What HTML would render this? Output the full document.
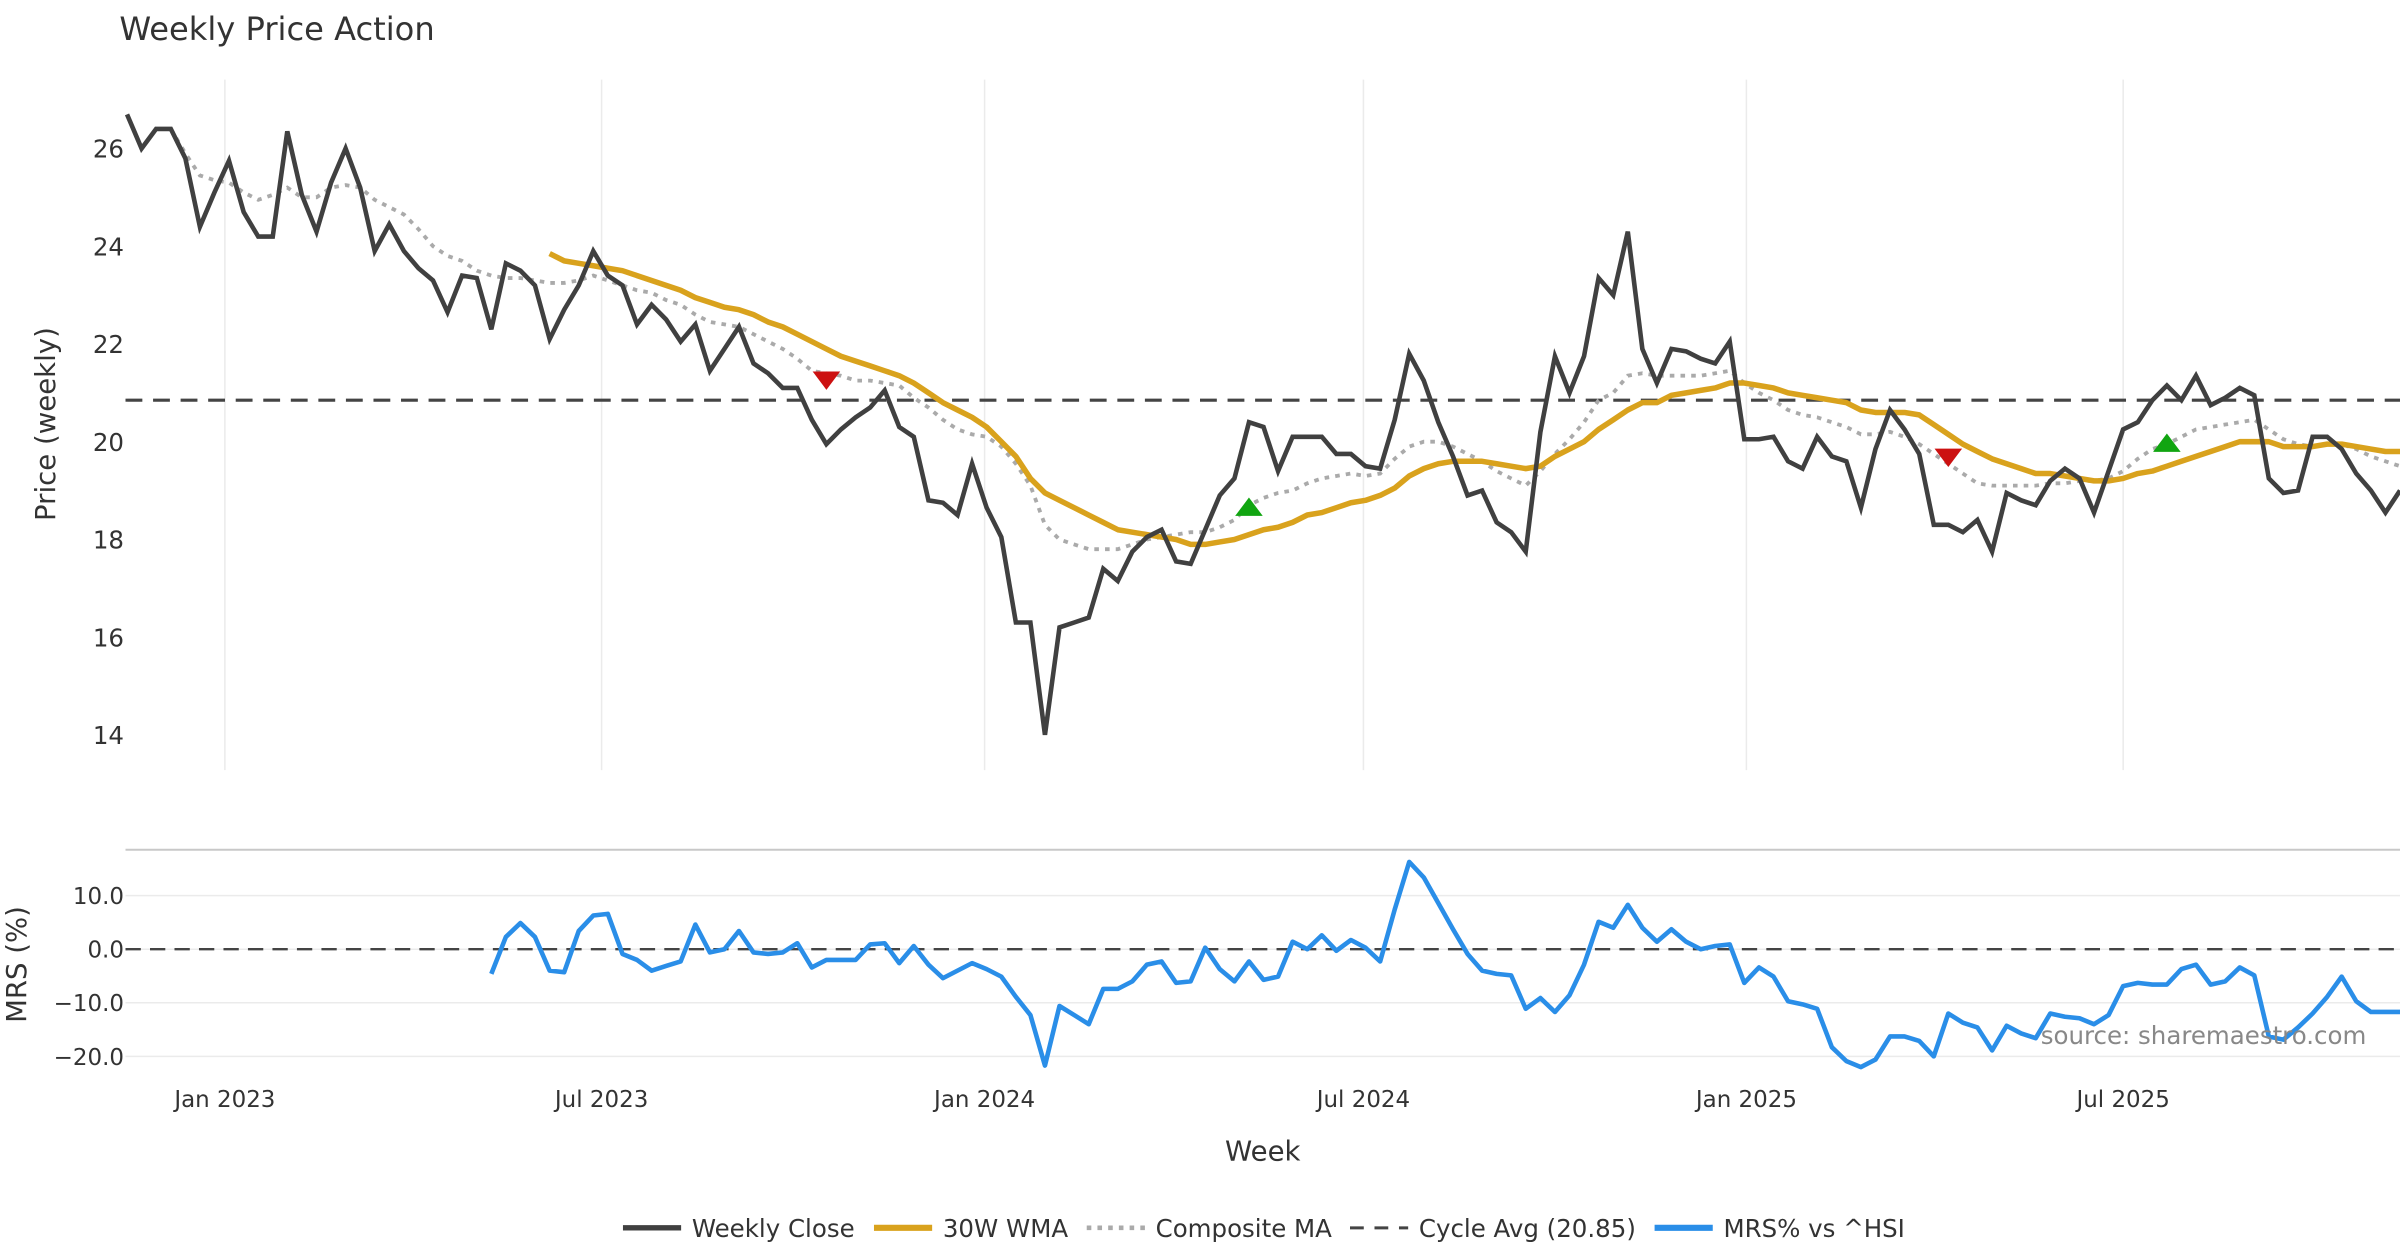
<!DOCTYPE html>
<html><head><meta charset="utf-8"><style>
html,body{margin:0;padding:0;background:#fff;}
svg{display:block;font-family:"DejaVu Sans","Liberation Sans",sans-serif;}
</style></head><body>
<svg id="chart" width="2400" height="1260" viewBox="0 0 1568 823" preserveAspectRatio="none" xmlns="http://www.w3.org/2000/svg">
<text x="78" y="26" font-size="21" fill="#333">Weekly Price Action</text>
<g id="grid"></g>
<g id="main"></g>
<g id="mrs"></g>
<text transform="translate(36,277) rotate(-90)" text-anchor="middle" font-size="18" fill="#333">Price (weekly)</text>
<text transform="translate(17,630) rotate(-90)" text-anchor="middle" font-size="18" fill="#333">MRS (%)</text>
<text x="825" y="758" text-anchor="middle" font-size="18" fill="#333">Week</text>
<text x="1546" y="682" text-anchor="end" font-size="16" fill="#888">source: sharemaestro.com</text>
<g id="legend"></g>
</svg>
<script>
const closes=[26.7,26.0,26.4,26.4,25.8,24.4,25.1,25.75,24.7,24.2,24.2,26.35,25.05,24.3,25.3,26.0,25.2,23.9,24.45,23.9,23.55,23.3,22.65,23.4,23.35,22.3,23.65,23.5,23.2,22.1,22.7,23.2,23.9,23.4,23.2,22.4,22.8,22.5,22.05,22.4,21.45,21.9,22.35,21.6,21.4,21.1,21.1,20.45,19.95,20.25,20.5,20.7,21.05,20.3,20.1,18.8,18.75,18.5,19.55,18.65,18.05,16.3,16.3,14.0,16.2,16.3,16.4,17.4,17.15,17.75,18.05,18.2,17.55,17.5,18.2,18.9,19.25,20.4,20.3,19.4,20.1,20.1,20.1,19.75,19.75,19.5,19.45,20.45,21.8,21.25,20.4,19.7,18.9,19.0,18.35,18.15,17.75,20.2,21.75,21.0,21.75,23.35,23.0,24.3,21.9,21.2,21.9,21.85,21.7,21.6,22.05,20.05,20.05,20.1,19.6,19.45,20.1,19.7,19.6,18.65,19.85,20.65,20.25,19.75,18.3,18.3,18.15,18.4,17.75,18.95,18.8,18.7,19.2,19.45,19.25,18.55,19.4,20.25,20.4,20.85,21.15,20.85,21.35,20.75,20.9,21.1,20.95,19.25,18.95,19.0,20.1,20.1,19.85,19.35,19.0,18.55,19.0];
const compositeMA=[26.4,25.9,25.45,25.35,25.3,25.1,24.95,25.05,25.2,25.0,25.0,25.2,25.25,25.2,24.95,24.8,24.65,24.35,24.0,23.8,23.7,23.5,23.4,23.35,23.35,23.3,23.25,23.25,23.3,23.4,23.3,23.2,23.1,23.05,22.9,22.8,22.6,22.45,22.4,22.35,22.2,22.05,21.9,21.7,21.45,21.4,21.35,21.25,21.25,21.2,21.15,20.9,20.7,20.45,20.25,20.15,20.1,19.9,19.55,19.1,18.3,18.0,17.9,17.8,17.8,17.8,17.9,18.0,18.05,18.1,18.15,18.15,18.25,18.4,18.7,18.85,18.95,19.0,19.15,19.25,19.3,19.35,19.3,19.35,19.65,19.9,20.0,20.0,19.9,19.75,19.6,19.4,19.25,19.1,19.4,19.75,20.05,20.4,20.85,21.0,21.35,21.4,21.35,21.35,21.35,21.35,21.4,21.45,21.2,21.0,20.85,20.65,20.55,20.5,20.4,20.3,20.15,20.15,20.2,20.1,19.95,19.75,19.55,19.35,19.15,19.1,19.1,19.1,19.1,19.15,19.15,19.2,19.2,19.25,19.4,19.65,19.85,19.95,20.1,20.25,20.3,20.35,20.4,20.45,20.25,20.05,19.95,19.9,19.95,19.95,19.85,19.7,19.6,19.5];
const wma30=[23.85,23.7,23.65,23.6,23.55,23.5,23.4,23.3,23.2,23.1,22.95,22.85,22.75,22.7,22.6,22.45,22.35,22.2,22.05,21.9,21.75,21.65,21.55,21.45,21.35,21.2,21.0,20.8,20.65,20.5,20.3,20.0,19.7,19.25,18.95,18.8,18.65,18.5,18.35,18.2,18.15,18.1,18.05,18.0,17.9,17.9,17.95,18.0,18.1,18.2,18.25,18.35,18.5,18.55,18.65,18.75,18.8,18.9,19.05,19.3,19.45,19.55,19.6,19.6,19.6,19.55,19.5,19.45,19.5,19.7,19.85,20.0,20.25,20.45,20.65,20.8,20.8,20.95,21.0,21.05,21.1,21.2,21.2,21.15,21.1,21.0,20.95,20.9,20.85,20.8,20.65,20.6,20.6,20.6,20.55,20.35,20.15,19.95,19.8,19.65,19.55,19.45,19.35,19.35,19.3,19.25,19.2,19.2,19.25,19.35,19.4,19.5,19.6,19.7,19.8,19.9,20.0,20.0,20.0,19.9,19.9,19.9,19.95,19.95,19.9,19.85,19.8,19.8];
const mrsPct=[-4.6,2.3,4.9,2.3,-4.0,-4.3,3.4,6.3,6.6,-0.9,-2.0,-4.0,-3.1,-2.3,4.6,-0.6,0,3.4,-0.6,-0.9,-0.6,1.1,-3.4,-2.0,-2.0,-2.0,0.9,1.1,-2.6,0.6,-2.9,-5.4,-4.0,-2.6,-3.7,-5.1,-8.9,-12.3,-21.7,-10.6,-12.3,-14.0,-7.4,-7.4,-6.0,-2.9,-2.3,-6.3,-6.0,0.3,-3.7,-6.0,-2.3,-5.7,-5.1,1.4,0,2.6,-0.3,1.7,0.3,-2.3,7.4,16.3,13.4,8.6,3.7,-0.9,-4.0,-4.6,-4.9,-11.1,-9.1,-11.7,-8.6,-2.9,5.1,4.0,8.3,4.0,1.4,3.7,1.4,0,0.6,0.9,-6.3,-3.4,-5.1,-9.7,-10.3,-11.1,-18.3,-20.9,-22.0,-20.6,-16.3,-16.3,-17.1,-20.0,-12.0,-13.7,-14.6,-18.9,-14.3,-15.7,-16.6,-12.0,-12.6,-12.9,-14.0,-12.3,-6.9,-6.3,-6.6,-6.6,-3.7,-2.9,-6.6,-6.0,-3.4,-4.9,-16.3,-16.9,-14.6,-12.0,-8.9,-5.1,-9.7,-11.7,-11.7,-11.7];
const cycleAvg=20.85;
const sellIdx=[48,125], sellVal=[21.25,19.67];
const buyIdx=[77,140], buyVal=[18.67,19.98];
const priceTicks=[14,16,18,20,22,24,26];
const mrsTicks=[10,0,-10,-20];
const mrsTickLabels=["10.0","0.0","\u221210.0","\u221220.0"];
const dateTicks=["2023-01-01","2023-07-01","2024-01-01","2024-07-01","2025-01-01","2025-07-01"];
const dateLabels=["Jan 2023","Jul 2023","Jan 2024","Jul 2024","Jan 2025","Jul 2025"];

const NS="http://www.w3.org/2000/svg";
const N=closes.length;
const X0=83,X1=1568;
const xi=i=>X0+i*(X1-X0)/(N-1);
const startMs=Date.UTC(2022,10,15);
const xd=s=>{const d=new Date(s+"T00:00:00Z");return X0+(d-startMs)/(7*864e5)*(X1-X0)/(N-1);};
const yp=v=>97+(26-v)*31.92;
const ym=v=>620-v*3.5;
function mk(tag,attrs,parent){const e=document.createElementNS(NS,tag);for(const k in attrs)e.setAttribute(k,attrs[k]);parent.appendChild(e);return e;}
const gridG=document.getElementById('grid'),mainG=document.getElementById('main'),mrsG=document.getElementById('mrs'),legG=document.getElementById('legend');

dateTicks.forEach((d,k)=>{
  const x=xd(d);
  const g=mk('line',{x1:x,x2:x,y1:52,y2:503,stroke:'#ebebeb','stroke-width':1},gridG);
  
  
  const t=mk('text',{x:x,y:723,'text-anchor':'middle','font-size':15,fill:'#333'},gridG);
  t.textContent=dateLabels[k];
  
  
});
priceTicks.forEach(v=>{
  const t=mk('text',{x:81,y:yp(v)+6,'text-anchor':'end','font-size':16,fill:'#333'},gridG);
  t.textContent=v;
  
  
});
const mrsBorder=mk('line',{x1:82,x2:1568,y1:555,y2:555,stroke:'#c8c8c8','stroke-width':1.3},gridG);


mrsTicks.forEach((v,k)=>{
  const l=mk('line',{x1:82,x2:1568,y1:ym(v),y2:ym(v),stroke:'#ebebeb','stroke-width':1},gridG);
  
  
  const t=mk('text',{x:81,y:ym(v)+5.5,'text-anchor':'end','font-size':15,fill:'#333'},gridG);
  t.textContent=mrsTickLabels[k];
  
  
});
const zl=mk('line',{x1:82,x2:1568,y1:ym(0),y2:ym(0),stroke:'#444','stroke-width':1.6,'stroke-dasharray':'10,6'},mrsG);



function path(arr,off,yf){let d='';arr.forEach((v,j)=>{if(v==null)return;d+=(d?'L':'M')+xi(j+off).toFixed(1)+','+yf(v).toFixed(1);});return d;}
const ca=mk('line',{x1:82,x2:1568,y1:yp(cycleAvg),y2:yp(cycleAvg),stroke:'#444','stroke-width':2,'stroke-dasharray':'11,7'},mainG);


const cp=mk('path',{d:path(compositeMA,N-compositeMA.length,yp),fill:'none',stroke:'#aaaaaa','stroke-width':2.5,'stroke-dasharray':'3,4'},mainG);


const wp=mk('path',{d:path(wma30,N-wma30.length,yp),fill:'none',stroke:'#d9a21d','stroke-width':3.6,'stroke-linejoin':'round'},mainG);


const cl=mk('path',{d:path(closes,0,yp),fill:'none',stroke:'#404040','stroke-width':3,'stroke-linejoin':'miter'},mainG);


sellIdx.forEach((i,k)=>{const x=xi(i),y=yp(sellVal[k]);
  const p=mk('polygon',{points:`${x-9},${y-6} ${x+9},${y-6} ${x},${y+6}`,fill:'#cc1111'},mainG);
  
  });
buyIdx.forEach((i,k)=>{const x=xi(i),y=yp(buyVal[k]);
  const p=mk('polygon',{points:`${x-9},${y+6} ${x+9},${y+6} ${x},${y-6}`,fill:'#11a511'},mainG);
  
  });
const mp=mk('path',{d:path(mrsPct,N-mrsPct.length,ym),fill:'none',stroke:'#2a8ee8','stroke-width':3,'stroke-linejoin':'round'},mrsG);



const items=[["Weekly Close","#404040",null,3.5,407],["30W WMA","#d9a21d",null,4,571],["Composite MA","#aaaaaa","3,4",3,710],["Cycle Avg (20.85)","#444","9,7",2,882],["MRS% vs ^HSI","#2a8ee8",null,4,1081]];
items.forEach(it=>{
  const g=mk('g',{},legG);
  
  
  const a={x1:it[4],x2:it[4]+38,y1:802,y2:802,stroke:it[1],'stroke-width':it[3]};
  if(it[2])a['stroke-dasharray']=it[2];
  mk('line',a,g);
  const t=mk('text',{x:it[4]+45,y:808,'font-size':16,fill:'#333'},g);
  t.textContent=it[0];
});
</script>
</body></html>
